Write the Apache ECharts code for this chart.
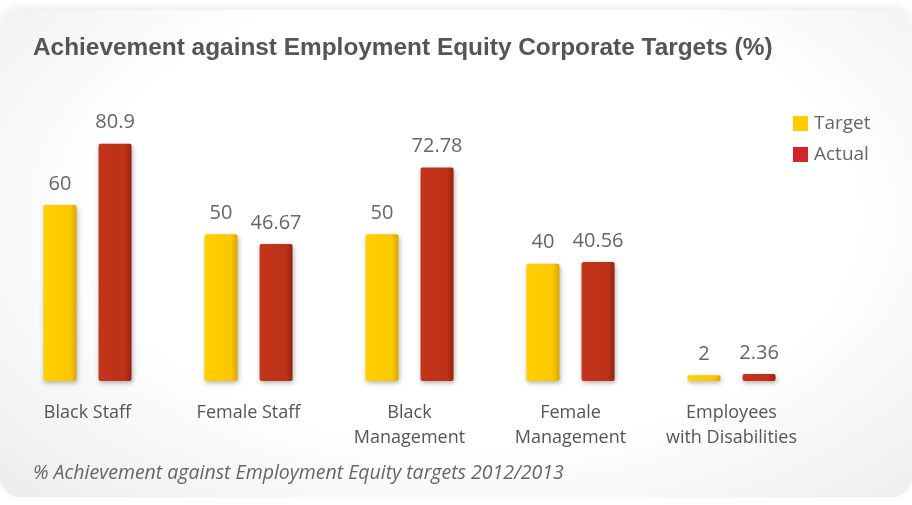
<!DOCTYPE html>
<html>
<head>
<meta charset="utf-8">
<script src="https://cdn.jsdelivr.net/npm/echarts@6/dist/echarts.min.js"></script>
<style>
    html, body { margin: 0; padding: 0; background: #fff; }
    #wrap { position: relative; width: 912px; height: 505px; overflow: hidden; }
    #card {
        position: absolute; left: 0; top: 10px; width: 912px; height: 487px;
        border-radius: 20px;
        background: radial-gradient(ellipse 75% 85% at 52% 42%, #ffffff 55%, #ebebeb 100%);
        box-shadow: 0 -3px 8px rgba(0,0,0,0.08);
    }
    #chart { position: absolute; left: 0; top: 0; width: 912px; height: 505px; }
</style>
</head>
<body>
<div id="wrap">
    <div id="card"></div>
    <div id="chart"></div>
</div>
<script>
// 数据
const categories = ['Black Staff', 'Female Staff', 'Black\nManagement', 'Female\nManagement', 'Employees\nwith Disabilities'];
const targetValues = [60, 50, 50, 40, 2];
const actualValues = [80.9, 46.67, 72.78, 40.56, 2.36];

const labelFont = '"Open Sans", Roboto, sans-serif';

// 柱子渐变
function barGradient(light, mid, dark) {
    return new echarts.graphic.LinearGradient(0, 0, 1, 0, [
        { offset: 0, color: light },
        { offset: 0.8, color: mid },
        { offset: 1, color: dark }
    ]);
}

function initChart() {
    const chart = echarts.init(document.getElementById('chart'), null, { renderer: 'canvas' });
    const valueLabel = {
        show: true,
        position: 'top',
        distance: 11,
        fontFamily: labelFont,
        fontSize: 20,
        color: '#666666'
    };
    const option = {
        backgroundColor: 'transparent',
        animation: false,
        title: {
            text: 'Achievement against Employment Equity Corporate Targets (%)',
            left: 28,
            top: 31,
            textStyle: {
                fontFamily: '"Liberation Sans", Arial, sans-serif',
                fontSize: 24.4,
                fontWeight: 'bold',
                color: '#555555'
            }
        },
        legend: {
            orient: 'vertical',
            left: 788,
            top: 109,
            itemWidth: 15,
            itemHeight: 15,
            itemGap: 12,
            icon: 'rect',
            textStyle: { fontFamily: labelFont, fontSize: 19, color: '#666666', padding: [0, 0, 0, 1] },
            data: [
                { name: 'Target', itemStyle: { color: '#ffcc00' } },
                { name: 'Actual', itemStyle: { color: '#d4232a' } }
            ]
        },
        grid: { left: 7, right: 100, top: 117, height: 264, containLabel: false },
        xAxis: {
            type: 'category',
            data: categories,
            axisLine: { show: false },
            axisTick: { show: false },
            axisLabel: {
                margin: 19,
                fontFamily: labelFont,
                fontSize: 18,
                lineHeight: 25,
                color: '#555555',
                interval: 0
            }
        },
        yAxis: {
            type: 'value',
            min: 0,
            max: 90,
            show: false,
            splitLine: { show: false }
        },
        series: [
            {
                name: 'Target',
                type: 'bar',
                data: targetValues,
                barWidth: 33,
                barGap: '67%',
                itemStyle: {
                    color: barGradient('#ffd000', '#fcc700', '#d9a600'),
                    borderRadius: 2,
                    shadowColor: 'rgba(0,0,0,0.3)',
                    shadowBlur: 5,
                    shadowOffsetX: 1,
                    shadowOffsetY: 2
                },
                label: valueLabel
            },
            {
                name: 'Actual',
                type: 'bar',
                data: actualValues,
                barWidth: 33,
                itemStyle: {
                    color: barGradient('#c3351b', '#bd3119', '#97230f'),
                    borderRadius: 2,
                    shadowColor: 'rgba(0,0,0,0.3)',
                    shadowBlur: 5,
                    shadowOffsetX: 1,
                    shadowOffsetY: 2
                },
                label: valueLabel
            }
        ],
        graphic: [
            {
                type: 'text',
                left: 33,
                top: 463,
                style: {
                    text: '% Achievement against Employment Equity targets 2012/2013',
                    font: 'italic 19.5px ' + labelFont,
                    fill: '#666666'
                }
            }
        ]
    };
    chart.setOption(option);
}

document.addEventListener('DOMContentLoaded', () => {
    initChart();
});
</script>
</body>
</html>
